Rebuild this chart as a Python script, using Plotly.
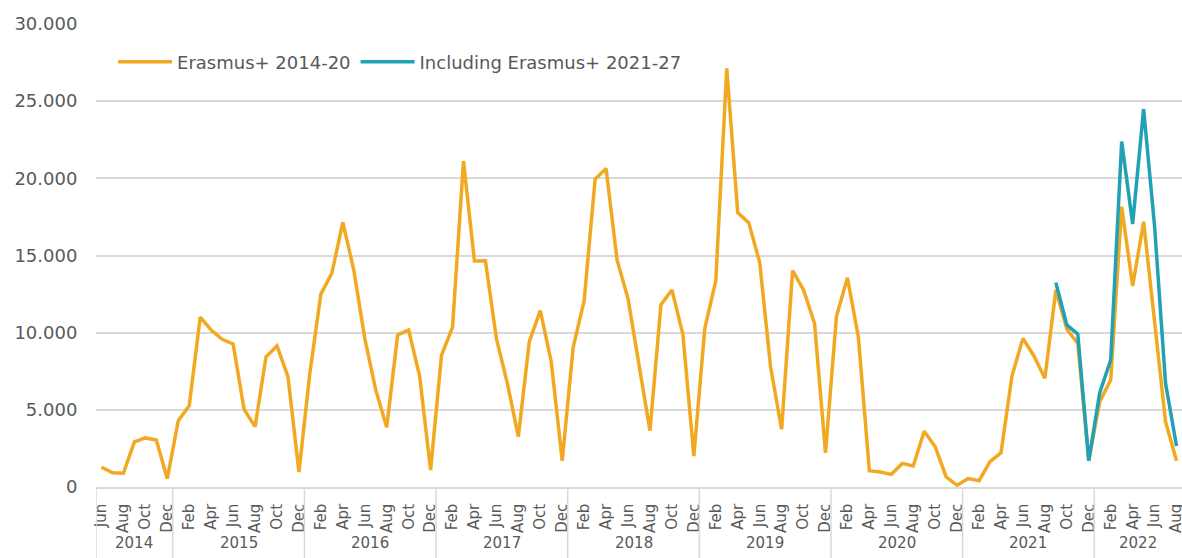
import plotly.graph_objects as go

# categories
month_names = ["Jan", "Feb", "Mar", "Apr", "May", "Jun",
               "Jul", "Aug", "Sep", "Oct", "Nov", "Dec"]
years = [2014, 2015, 2016, 2017, 2018, 2019, 2020, 2021, 2022]
first_month = 6   # Jun 2014
last_month = 8    # Aug 2022

# monthly values, Jun 2014 - Aug 2022
erasmus_2014_20 = [
    1280, 930, 890, 2920, 3180, 3050, 540,
    4300, 5270, 11000, 10170, 9570, 9270, 5030, 3910, 8440, 9140, 7150, 970,
    7400, 12500, 13850, 17150, 14060, 9630, 6290, 3870, 9850, 10170, 7190, 1100,
    8550, 10350, 21120, 14640, 14660, 9630, 6720, 3260, 9420, 11430, 8120, 1700,
    9050, 12070, 19940, 20630, 14710, 12200, 7800, 3650, 11810, 12770, 9890, 2010,
    10280, 13350, 27130, 17780, 17130, 14560, 7760, 3740, 14020, 12770, 10610, 2220,
    11040, 13560, 9700, 1060, 970, 820, 1530, 1360, 3610, 2610, 650, 110,
    550, 410, 1650, 2220, 7190, 9630, 8490, 7040, 12770, 10220, 9310, 1700,
    5530, 6930, 18160, 13020, 17190, 10820, 4230, 1700,
]
# Sep 2021 - Aug 2022
including_2021_27 = [13240, 10500, 9910, 1700, 6110, 8230,
                     22380, 17040, 24490, 16900, 6720, 2660]

# build category labels
cats, month_lbl, year_of = [], [], []
for y in years:
    m0 = first_month if y == years[0] else 1
    m1 = last_month if y == years[-1] else 12
    for m in range(m0, m1 + 1):
        cats.append(f"{month_names[m-1]} {y}")
        month_lbl.append(month_names[m-1])
        year_of.append(y)

teal = [None] * (len(cats) - len(including_2021_27)) + including_2021_27

ORANGE = "#F2A922"
TEAL = "#22A0B4"
GREY = "#595959"
GRID = "#D9D9D9"
FONT = "DejaVu Sans"

fig = go.Figure()
fig.add_trace(go.Scatter(x=cats, y=erasmus_2014_20, mode="lines",
                         name="Erasmus+ 2014-20",
                         line=dict(color=ORANGE, width=3.5)))
fig.add_trace(go.Scatter(x=cats, y=teal, mode="lines",
                         name="Including Erasmus+ 2021-27",
                         line=dict(color=TEAL, width=3.5)))

# tick labels: every even month
tickvals = [c for c, m in zip(cats, month_lbl) if month_names.index(m) % 2 == 1]
ticktext = [c.split()[0] for c in tickvals]

# year labels and dividers
shapes, annos = [], []
bottom = -0.16
for y in years:
    idx = [i for i, yy in enumerate(year_of) if yy == y]
    annos.append(dict(x=(idx[0] + idx[-1]) / 2, y=-0.122, xref="x", yref="paper",
                      text=str(y), showarrow=False, yanchor="middle",
                      font=dict(family=FONT, size=15, color=GREY)))
    shapes.append(dict(type="line", xref="x", yref="paper",
                       x0=idx[0] - 0.5, x1=idx[0] - 0.5, y0=0, y1=bottom,
                       line=dict(color=GRID, width=1.5)))

fig.update_layout(
    width=1182, height=558,
    margin=dict(l=96, r=0, t=24, b=71, autoexpand=False),
    plot_bgcolor="white", paper_bgcolor="white",
    separators=",.",
    font=dict(family=FONT, color=GREY),
    showlegend=True,
    legend=dict(orientation="h", x=0.0157, y=0.918, xanchor="left", yanchor="middle",
                font=dict(family=FONT, size=18, color=GREY),
                bgcolor="rgba(0,0,0,0)", itemwidth=54),
    shapes=shapes,
    annotations=annos,
)
fig.update_xaxes(type="category", categoryorder="array", categoryarray=cats,
                 range=[-0.5, len(cats) - 0.5], automargin=False,
                 tickvals=tickvals, ticktext=ticktext, tickangle=-90,
                 tickfont=dict(family=FONT, size=15, color=GREY),
                 showgrid=False, showline=True, linecolor=GRID, linewidth=1.5,
                 ticks="outside", ticklen=0, ticklabelstandoff=9)
fig.update_yaxes(range=[0, 30000], dtick=5000, tickformat=",d", automargin=False,
                 gridcolor=GRID, gridwidth=1.5, zeroline=False,
                 tickfont=dict(family=FONT, size=18, color=GREY),
                 ticks="outside", ticklen=0, ticklabelstandoff=14)

fig.write_html("out.html", config={"displayModeBar": False},
               post_script="document.body.style.margin='0';document.body.style.overflow='hidden';")
